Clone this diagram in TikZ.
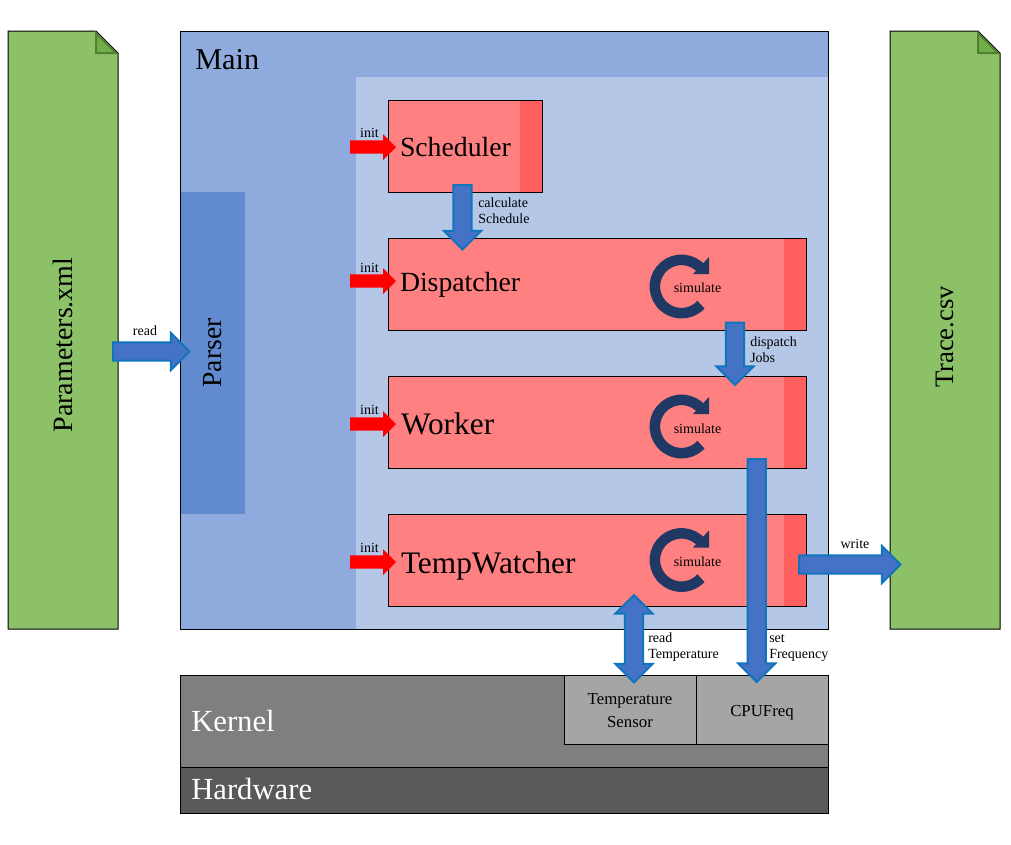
\documentclass[tikz,border=0pt]{standalone}
\usepackage{fontspec}
\usepackage{graphicx}
\setmainfont{Liberation Serif}
\usetikzlibrary{calc}
\definecolor{mainblue}{HTML}{8FAADC}
\definecolor{innerblue}{HTML}{B4C7E7}
\definecolor{parserblue}{HTML}{628ACE}
\definecolor{procred}{HTML}{FF8080}
\definecolor{stripred}{HTML}{FF5F5F}
\definecolor{papergreen}{HTML}{8CC168}
\definecolor{foldgreen}{HTML}{70AD47}
\definecolor{foldline}{HTML}{507E32}
\definecolor{arrowblue}{HTML}{4472C4}
\definecolor{arrowline}{HTML}{0F75BD}
\definecolor{ringblue}{HTML}{203864}
\definecolor{kernelgray}{HTML}{7F7F7F}
\definecolor{devgray}{HTML}{A5A5A5}
\definecolor{hwgray}{HTML}{595959}
\newcommand{\fsz}[2]{\fontsize{#1}{#2}\selectfont}
% indent (px), baseline below box centre (px), text
\newcommand{\ptxt}[3]{\hspace*{#1\dimexpr 0.75pt\relax}\smash{\raisebox{-#2\dimexpr 0.75pt\relax}{#3}}}
\tikzset{
  x=0.75pt,y=-0.75pt,
  blk/.style={draw=black,line width=0.75pt,inner sep=0pt,outer sep=0pt,anchor=north west},
  procbox/.style args={#1/#2}{blk,fill=procred,minimum width=#1*0.75pt,minimum height=69pt,
     text width=#1*0.75pt,align=left,font=\fsz{#2}{#2},
     path picture={\fill[stripred] ($(path picture bounding box.north east)+(-22,0)$) rectangle (path picture bounding box.south east);}},
  small/.style={inner sep=0pt,font=\fsz{10.5}{12},align=left},
  arrowshape/.style n args={3}{to path={
     ($(\tikztostart)!#1!90:(\tikztotarget)$) --
     ($(\tikztotarget)!#3!(\tikztostart)!#1!-90:(\tikztostart)$) --
     ($(\tikztotarget)!#3!(\tikztostart)!#2!-90:(\tikztostart)$) --
     (\tikztotarget) --
     ($(\tikztotarget)!#3!(\tikztostart)!#2!90:(\tikztostart)$) --
     ($(\tikztotarget)!#3!(\tikztostart)!#1!90:(\tikztostart)$) --
     ($(\tikztostart)!#1!-90:(\tikztotarget)$) -- cycle}},
  bluearrow/.style={fill=arrowblue,draw=arrowline,line width=1.5pt,line join=miter,miter limit=4,arrowshape={6.8pt}{14pt}{14pt}},
  redarrow/.style={fill=red,draw=none,arrowshape={4.9pt}{9.75pt}{9.75pt}},
  bidir/.style={fill=arrowblue,draw=arrowline,line width=1.5pt,miter limit=4,to path={
     ($(\tikztostart)!14pt!(\tikztotarget)!6.8pt!90:(\tikztotarget)$) --
     ($(\tikztotarget)!14pt!(\tikztostart)!6.8pt!-90:(\tikztostart)$) --
     ($(\tikztotarget)!14pt!(\tikztostart)!14pt!-90:(\tikztostart)$) --
     (\tikztotarget) --
     ($(\tikztotarget)!14pt!(\tikztostart)!14pt!90:(\tikztostart)$) --
     ($(\tikztotarget)!14pt!(\tikztostart)!6.8pt!90:(\tikztostart)$) --
     ($(\tikztostart)!14pt!(\tikztotarget)!6.8pt!-90:(\tikztotarget)$) --
     ($(\tikztostart)!14pt!(\tikztotarget)!14pt!-90:(\tikztotarget)$) --
     (\tikztostart) --
     ($(\tikztostart)!14pt!(\tikztotarget)!14pt!90:(\tikztotarget)$) -- cycle}},
  paper/.style={fill=papergreen,draw=black,line width=0.75pt},
  fold/.style={fill=foldgreen,draw=foldline,line width=1.5pt,line join=miter},
}
\newcommand{\paperdoc}[1]{%
  \filldraw[paper] (#1,31) -- ++(88,0) -- ++(22,22) -- (#1+110,629) -- (#1,629) -- cycle;
  \draw[fold] (#1+88,33) -- (#1+108,53) -- (#1+88,53) -- cycle;
}
\newcommand{\ring}[1]{%
  \draw[ringblue,line width=7.9pt,line cap=butt]
    ([shift={(40:20pt)}]#1) arc[start angle=40,end angle=317,radius=20pt];
  \fill[ringblue] ($(#1)+(27.5,-29.5)$) -- ($(#1)+(27.5,-12.5)$) -- ($(#1)+(11.5,-12.5)$) -- cycle;
}
\begin{document}
\begin{tikzpicture}
\useasboundingbox (0,0) rectangle (1011,844);
% documents
\paperdoc{8}
\paperdoc{890}
\node[inner sep=0pt,rotate=90,font=\fsz{21}{24}] (params) at (63,345) {Parameters.xml};
\node[inner sep=0pt,rotate=90,font=\fsz{20}{22}] (trace) at (945,337) {Trace.csv};
% main
\node[blk,fill=mainblue,minimum width=486pt,minimum height=448.5pt] (main) at (180,31) {};
\node[inner sep=0pt,outer sep=0pt,anchor=north west,fill=innerblue,minimum width=354pt,minimum height=414pt] (inner) at (356,77) {};
\node[inner sep=0pt,outer sep=0pt,anchor=north west,fill=parserblue,minimum width=49pt,minimum height=241.5pt,font=\fsz{20.7}{22}] (parser) at (180,192) {\rotatebox{90}{Parser}};
\draw[black,line width=0.75pt] (main.north west) rectangle (main.south east);
\node[inner sep=0pt,font=\fsz{22.7}{24},anchor=base west] (mainT) at (195,69) {Main};
% processes
\node[procbox=154/20.8] (sched) at (388,100) {\ptxt{12}{10}{Scheduler}};
\node[procbox=418/20.8] (disp) at (388,238) {\ptxt{12}{7}{Dispatcher}};
\node[procbox=418/23.5] (work) at (388,376) {\ptxt{13}{12}{Worker}};
\node[procbox=418/23.5] (temp) at (388,514) {\ptxt{13}{13}{TempWatcher}};
% simulate loops
\coordinate (c1) at (681.5,286.5);
\coordinate (c2) at (681.5,426.5);
\coordinate (c3) at (681.5,560);
\ring{c1}\ring{c2}\ring{c3}
\node[small] (sim1) at (697.5,288) {simulate};
\node[small] (sim2) at (697.5,428.5) {simulate};
\node[small] (sim3) at (697.5,561.5) {simulate};
% kernel / hardware
\node[blk,fill=kernelgray,minimum width=486pt,minimum height=69pt] (kernel) at (180,675) {};
\node[inner sep=0pt,anchor=base west,text=white,font=\fsz{23}{24}] (kernelT) at (191,731) {Kernel};
\node[blk,fill=hwgray,minimum width=486pt,minimum height=34.5pt] (hw) at (180,767) {};
\node[inner sep=0pt,anchor=base west,text=white,font=\fsz{23}{24}] (hwT) at (191,799) {Hardware};
\node[blk,fill=devgray,minimum width=99pt,minimum height=51.75pt,align=center,font=\fsz{12.6}{17.25}] (sensor) at (564,675) {\rule{0pt}{10.5pt}Temperature\\Sensor};
\node[blk,fill=devgray,minimum width=99pt,minimum height=51.75pt,align=center,font=\fsz{12.6}{17.25}] (cpu) at (696,675) {\smash{\raisebox{-5pt}{CPUFreq}}};
% init arrows
\coordinate (i1) at (350,147);
\coordinate (i2) at (350,281);
\coordinate (i3) at (350,424);
\coordinate (i4) at (350,562);
\coordinate (e1) at ($(sched.north west)+(8,47)$);
\coordinate (e2) at ($(disp.north west)+(8,43)$);
\coordinate (e3) at ($(work.north west)+(8,48)$);
\coordinate (e4) at ($(temp.north west)+(8,48)$);
\draw[redarrow] (i1) to (e1);
\draw[redarrow] (i2) to (e2);
\draw[redarrow] (i3) to (e3);
\draw[redarrow] (i4) to (e4);
\node[small] (init1) at (369.5,132.5) {init};
\node[small] (init2) at (369.5,267.5) {init};
\node[small] (init3) at (369.5,409.5) {init};
\node[small] (init4) at (369.5,547.5) {init};
% block arrows
\coordinate (r1) at (113,351.5);
\coordinate (r2) at ($(parser.north west)+(9.5,159.5)$);
\draw[bluearrow] (r1) to (r2);
\node[small] (readL) at (145,330.5) {read};
\coordinate (a1) at ($(sched.south west)+(74.5,-7)$);
\coordinate (a2) at ($(disp.north west)+(74.5,11.5)$);
\draw[bluearrow] (a1) to (a2);
\node[small,anchor=north west] (calcL) at (478,198) {calculate\\Schedule};
\coordinate (b1) at ($(disp.south west)+(347,-7.5)$);
\coordinate (b2) at ($(work.north west)+(347,9)$);
\draw[bluearrow] (b1) to (b2);
\node[small,anchor=north west] (dispL) at (750,336.5) {dispatch\\Jobs};
\coordinate (d1) at ($(work.south west)+(368.7,-9)$);
\coordinate (d2) at ($(cpu.north west)+(60.7,7)$);
\draw[bluearrow] (d1) to (d2);
\node[small,anchor=north west] (setL) at (769,634) {set\\Frequency};
\coordinate (t1) at ($(temp.south west)+(246,-11)$);
\coordinate (t2) at ($(sensor.north west)+(70,7.5)$);
\draw[bidir] (t1) to (t2);
\node[small,anchor=north west] (tempL) at (648,633) {read\\Temperature};
\coordinate (w1) at ($(temp.east)+(-7,4.5)$);
\coordinate (w2) at (900.5,564.5);
\draw[bluearrow] (w1) to (w2);
\node[small] (writeL) at (855,543.5) {write};
\end{tikzpicture}
\end{document}
